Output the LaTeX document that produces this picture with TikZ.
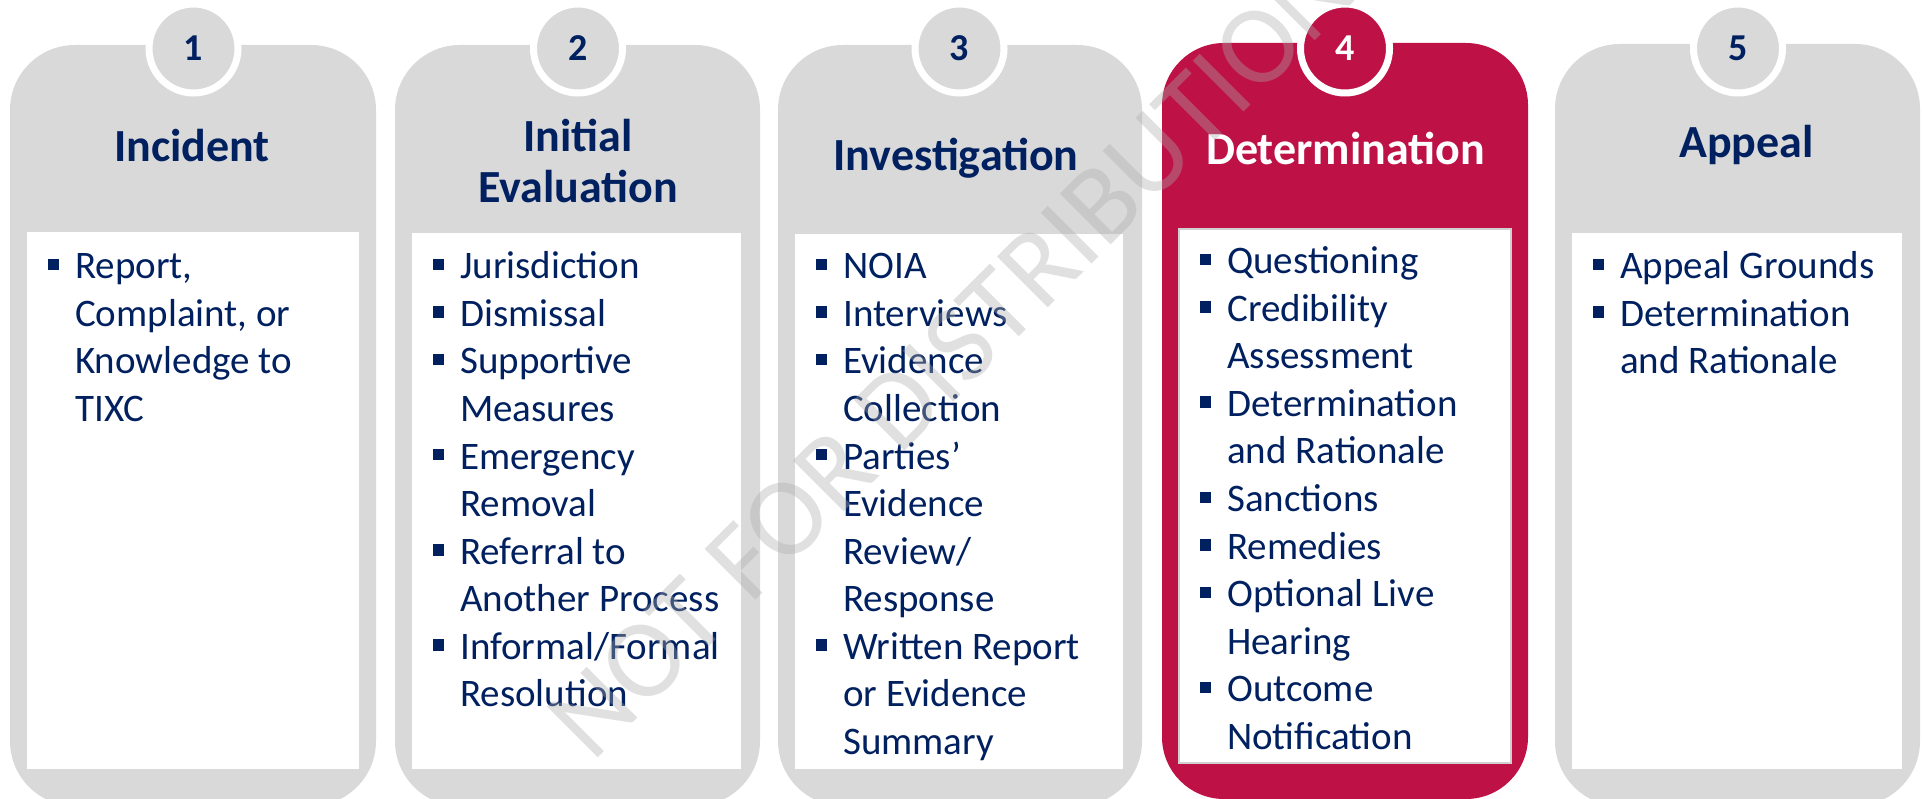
\documentclass[tikz,border=0pt]{standalone}
\usepackage{fontspec}
\setmainfont{Carlito}
\definecolor{navy}{HTML}{002060}
\definecolor{cardgray}{HTML}{D9D9D9}
\definecolor{detred}{HTML}{BE1246}
\definecolor{wmgray}{HTML}{ABABAB}
\definecolor{boxline}{HTML}{D0D0D0}
\newcommand\cardlist[4]{%
  \foreach \b/\t [count=\i from 0] in {#4} {
    \node[item, anchor=base west] (#1\i) at (#2+65, #3+\i*47.5) {\t};
    \ifnum\b=1 \fill[navy] (#2+37.5, #3+\i*47.5-20) rectangle ++(11.5,11.5); \fi
  }}
\begin{document}
\begin{tikzpicture}[x=1pt,y=-1pt,
  card/.style={fill=cardgray, rounded corners=65pt},
  redcard/.style={fill=detred, rounded corners=62pt},
  whitebox/.style={fill=white},
  numcirc/.style={circle, fill=cardgray, draw=white, line width=7pt, minimum size=89pt, inner sep=0pt,
    text=navy, font=\fontsize{38}{38}\selectfont\bfseries},
  title/.style={anchor=base, inner sep=0pt, text=navy, font=\fontsize{46}{51}\selectfont\bfseries},
  item/.style={inner sep=0pt, text=navy, font=\fontsize{39}{47.5}\selectfont},
  wm/.style={inner sep=0pt, text=wmgray, text opacity=0.37, font=\fontsize{112}{112}\selectfont}]
\useasboundingbox (0,0) rectangle (1923,799);
\fill[white] (0,0) rectangle (1923,799);
% cards
\fill[card] (10,45) rectangle (376,806);
\fill[card] (395,45) rectangle (760,806);
\fill[card] (778,45) rectangle (1142,806);
\fill[redcard] (1162,43) rectangle (1528,799);
\fill[card] (1555,44) rectangle (1920,806);
% white boxes
\fill[whitebox] (27,232) rectangle (359,769);
\fill[whitebox] (412,233) rectangle (741,769);
\fill[whitebox] (795,234) rectangle (1123,769);
\filldraw[whitebox, draw=boxline, line width=2pt] (1179,229) rectangle (1511,763);
\fill[whitebox] (1572,233) rectangle (1902,769);
% number circles
\node[numcirc] (n1) at (193.5,48.5) {1};
\node[numcirc] (n2) at (578,48.5) {2};
\node[numcirc] (n3) at (959.5,48.5) {3};
\node[numcirc, fill=detred, text=white] (n4) at (1345,48.5) {4};
\node[numcirc] (n5) at (1738,48.5) {5};
% titles
\node[title] (t1) at (192,162) {Incident};
\node[title] (t2a) at (578,152) {Initial};
\node[title] (t2b) at (578,203) {Evaluation};
\node[title] (t3) at (956,171) {Investigation};
\node[title, text=white] (t4) at (1345.5,165) {Determination};
\node[title] (t5) at (1746.5,158) {Appeal};
% items
\cardlist{a}{10}{279}{1/{Report,}, 0/{Complaint, or}, 0/{Knowledge to}, 0/{TIXC}}
\cardlist{b}{395}{279}{1/{Jurisdiction}, 1/{Dismissal}, 1/{Supportive}, 0/{Measures}, 1/{Emergency}, 0/{Removal}, 1/{Referral to}, 0/{Another Process}, 1/{Informal/Formal}, 0/{Resolution}}
\cardlist{c}{778}{279}{1/{NOIA}, 1/{Interviews}, 1/{Evidence}, 0/{Collection}, 1/{Parties’}, 0/{Evidence}, 0/{Review/}, 0/{Response}, 1/{Written Report}, 0/{or Evidence}, 0/{Summary}}
\cardlist{d}{1162}{274}{1/{Questioning}, 1/{Credibility}, 0/{Assessment}, 1/{Determination}, 0/{and Rationale}, 1/{Sanctions}, 1/{Remedies}, 1/{Optional Live}, 0/{Hearing}, 1/{Outcome}, 0/{Notification}}
\cardlist{e}{1555}{279}{1/{Appeal Grounds}, 1/{Determination}, 0/{and Rationale}}
% watermark
\node[wm, rotate=45, anchor=base west] (wm) at (592,764) {NOT FOR DISTRIBUTION};
\end{tikzpicture}
\end{document}
